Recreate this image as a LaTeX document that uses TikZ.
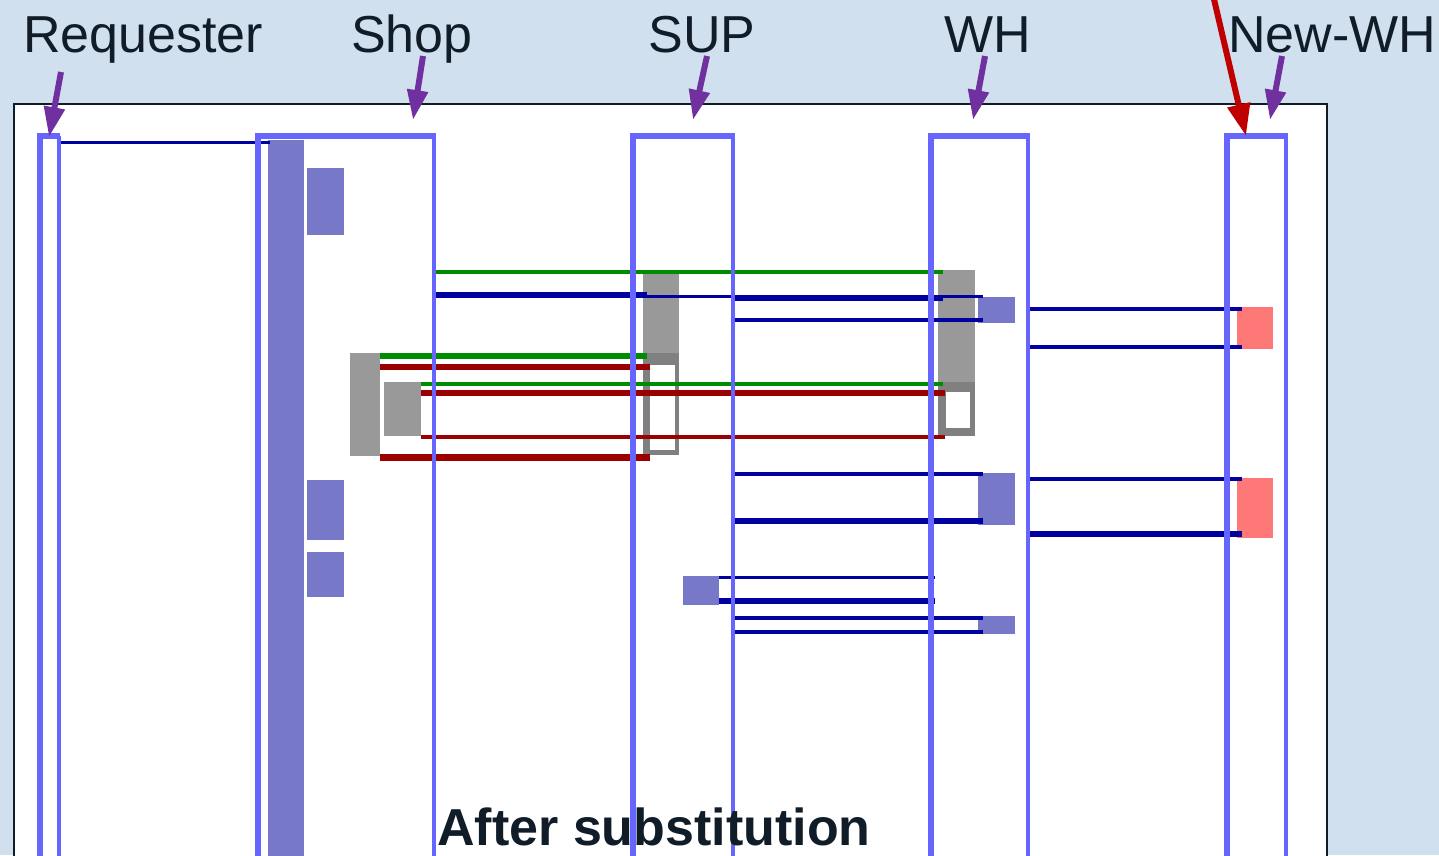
\documentclass[tikz,border=0pt]{standalone}
\usepackage{fontspec}
\setmainfont{Liberation Sans}
\usetikzlibrary{arrows.meta}

\definecolor{bgblue}{RGB}{209,224,238}
\definecolor{lifeblue}{RGB}{102,102,255}
\definecolor{actblue}{RGB}{120,120,200}
\definecolor{msgblue}{RGB}{0,0,160}
\definecolor{msggreen}{RGB}{0,140,0}
\definecolor{msgred}{RGB}{154,0,0}
\definecolor{waitgray}{RGB}{153,153,153}
\definecolor{framegray}{RGB}{128,128,128}
\definecolor{newpink}{RGB}{255,120,120}
\definecolor{pointer}{RGB}{112,48,160}
\definecolor{alertred}{RGB}{192,0,0}
\definecolor{inkdark}{RGB}{16,28,40}

\begin{document}
\begin{tikzpicture}[x=1pt, y=-1pt, line join=miter,
    lifeline/.style={lifeblue, line width=6pt},
    lifeback/.style={lifeblue, line width=4.5pt},
    blueline/.style={msgblue, line width=#1},
    greenline/.style={msggreen, line width=#1},
    redline/.style={msgred, line width=#1},
    actbox/.style={fill=actblue},
    lbl/.style={anchor=base, inner sep=0pt, text=inkdark, font=\fontsize{52}{60}\selectfont},
    pointerarrow/.style={pointer, line width=6pt, -{Triangle[length=30pt,width=20pt]}},
    alertarrow/.style={alertred, line width=6pt, -{Triangle[length=32pt,width=22pt]}}]
        \useasboundingbox (0,0) rectangle (1439,855);
        \fill[bgblue] (0,0) rectangle (1439,855);

        % panel
        \fill[white] (14,104) rectangle (1327,870);
        \draw[inkdark, line width=2.5pt] (14,870) -- (14,104) -- (1327,104) -- (1327,870);

        % activation on Shop and small boxes
        \fill[actblue] (268,140) rectangle (304,870);
        \fill[actblue] (307,168) rectangle (344,235);
        \fill[actblue] (307,480) rectangle (344,540);
        \fill[actblue] (307,552) rectangle (344,597);

        % waiting blocks, the hollow part below each
        \fill[waitgray] (643,273) rectangle (679,353);
        \fill[framegray] (643,353) rectangle (679,455);
        \fill[white] (650,365) rectangle (675,450);
        \fill[waitgray] (938,270) rectangle (975,382);
        \fill[framegray] (938,382) rectangle (975,436);
        \fill[white] (946,392) rectangle (970,428);
        \fill[waitgray] (350,353) rectangle (380,456);
        \fill[waitgray] (384,382) rectangle (421,436);

        % boxes on WH and SUP
        \fill[actblue] (978,297) rectangle (1015,323);
        \fill[actblue] (978,473) rectangle (1015,525);
        \fill[actblue] (683,576) rectangle (719,605);
        \fill[actblue] (978,616) rectangle (1015,634);

        % boxes on New-WH
        \fill[newpink] (1237,307) rectangle (1273,349);
        \fill[newpink] (1237,478) rectangle (1273,538);

        % messages
        \draw[blueline=3pt] (60,142) -- (270,142);
        \draw[greenline=4pt] (433,272) -- (943,272);
        \draw[blueline=6pt] (433,295) -- (647,295);
        \draw[blueline=3pt] (647,296) -- (983,296);
        \draw[blueline=5pt] (733,298) -- (943,298);
        \draw[blueline=4pt] (733,320) -- (983,320);
        \draw[greenline=6pt] (380,356) -- (647,356);
        \draw[redline=6pt] (380,367) -- (650,367);
        \draw[greenline=4pt] (421,384) -- (943,384);
        \draw[redline=6pt] (421,393) -- (945,393);
        \draw[redline=4pt] (421,437) -- (945,437);
        \draw[redline=7pt] (380,457) -- (650,457);

        \draw[blueline=4pt] (1027,309) -- (1242,309);
        \draw[blueline=4pt] (1027,347) -- (1242,347);
        \draw[blueline=4pt] (1027,479) -- (1242,479);
        \draw[blueline=6pt] (1027,534) -- (1242,534);

        \draw[blueline=4pt] (731,474) -- (983,474);
        \draw[blueline=6pt] (731,521) -- (983,521);
        \draw[blueline=3pt] (719,577) -- (935,577);
        \draw[blueline=6pt] (719,601) -- (935,601);
        \draw[blueline=4pt] (731,618) -- (983,618);
        \draw[blueline=4pt] (731,632) -- (983,632);

        % lifelines
        \draw[lifeline] (40,870) -- (40,136) -- (60,136);
        \draw[lifeback] (59,136) -- (59,870);
        \draw[lifeline] (258,870) -- (258,136) -- (436,136);
        \draw[lifeback] (434,136) -- (434,870);
        \draw[lifeline] (633,870) -- (633,136) -- (735,136);
        \draw[lifeback] (733,136) -- (733,870);
        \draw[lifeline] (931,870) -- (931,136) -- (1030,136);
        \draw[lifeback] (1028,136) -- (1028,870);
        \draw[lifeline] (1227,870) -- (1227,136) -- (1288,136);
        \draw[lifeback] (1286,136) -- (1286,870);

        % labels
        \node[lbl] (reqlbl) at (143,52) {Requester};
        \node[lbl] (shoplbl) at (412,52) {Shop};
        \node[lbl] (suplbl) at (702,52) {SUP};
        \node[lbl] (whlbl) at (988,52) {WH};
        \node[lbl] (newlbl) at (1332,52) {New-WH};

        \coordinate (reqtail) at (61,72);
        \coordinate (reqtip) at (49,137);
        \coordinate (shoptail) at (423,56);
        \coordinate (shoptip) at (413,120);
        \coordinate (suptail) at (707,56);
        \coordinate (suptip) at (693,120);
        \coordinate (whtail) at (985,56);
        \coordinate (whtip) at (973,120);
        \coordinate (newtail) at (1282,56);
        \coordinate (newtip) at (1270,120);
        \coordinate (alerttail) at (1213,-5);
        \coordinate (alerttip) at (1246,136);

        \draw[pointerarrow] (reqtail) -- (reqtip);
        \draw[pointerarrow] (shoptail) -- (shoptip);
        \draw[pointerarrow] (suptail) -- (suptip);
        \draw[pointerarrow] (whtail) -- (whtip);
        \draw[pointerarrow] (newtail) -- (newtip);
        \draw[alertarrow] (alerttail) -- (alerttip);

        \node[lbl, font=\fontsize{52}{60}\selectfont\bfseries] (caption) at (654,845) {After substitution};
    \end{tikzpicture}
\end{document}
